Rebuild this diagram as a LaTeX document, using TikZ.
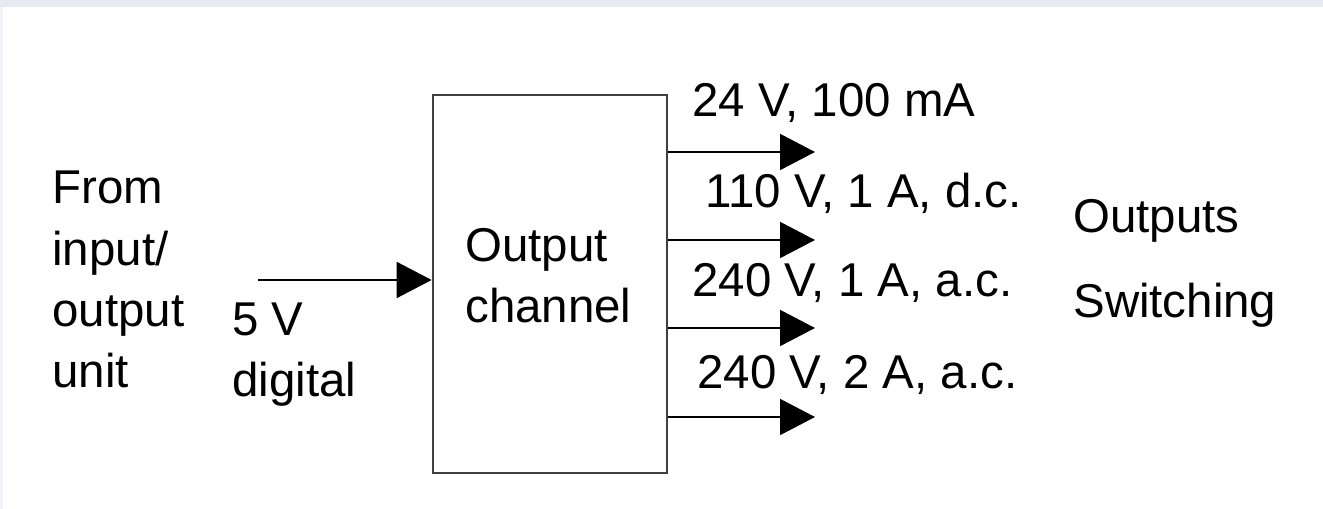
\documentclass[tikz,border=0pt]{standalone}
\usepackage{fontspec}
\setmainfont{Liberation Sans}
\usepackage{xcolor}
\usetikzlibrary{arrows.meta, positioning}

\definecolor{bandgray}{HTML}{E6EBF2}

\begin{document}
\begin{tikzpicture}[
    x=0.02cm, y=-0.02cm,
    font=\fontsize{27}{35}\selectfont,
    chanbox/.style={draw=black!75, line width=0.055cm, minimum width=4.68cm,
                    minimum height=7.56cm, inner sep=0pt},
    arr/.style={line width=0.04cm, -{Triangle[length=0.7cm, width=0.72cm]}},
    elab/.style={anchor=base west, inner sep=0pt, align=left}
]

% page and the light strip of the screenshot
\useasboundingbox (0,0) rectangle (1323,509);
\fill[bandgray] (0,0) rectangle (1323,7);
\fill[bandgray!60] (0,7) rectangle (3,509);

% Output channel block
\node[chanbox] (chan) at (550,284) {};
\node[elab] (chanlbl) at (465,323) {Output\\channel};

% Input side (base = last line)
\node[elab] (src)  at (52,388)  {From\\input/\\output\\unit};
\node[elab] (dig)  at (232,397) {5 V\\digital};
\coordinate (in) at (258,280);
\draw[arr] (in) -- (chan.west |- in);

% Output arrows
\coordinate (o1) at (815,152);
\coordinate (o2) at (815,240);
\coordinate (o3) at (815,328);
\coordinate (o4) at (815,417);
\foreach \o in {o1, o2, o3, o4}
    \draw[arr] (chan.east |- \o) -- (\o);

% Output ratings
\node[elab] (r1) at (692,117) {24 V, 100 mA};
\node[elab] (r2) at (705,208) {110 V, 1 A, d.c.};
\node[elab] (r3) at (692,297) {240 V, 1 A, a.c.};
\node[elab] (r4) at (697,389) {240 V, 2 A, a.c.};

% Right-hand captions
\node[elab] (outs) at (1073,233) {Outputs};
\node[elab] (swit) at (1073,318) {Switching};

\end{tikzpicture}
\end{document}
